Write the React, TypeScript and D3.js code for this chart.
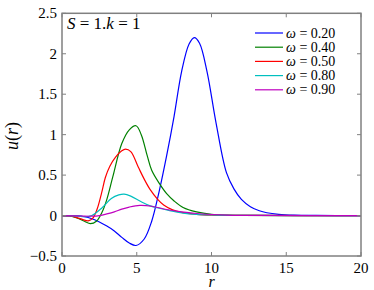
import React from 'react';
import * as d3 from 'd3';

const omegaLabels = ['0.20', '0.40', '0.50', '0.80', '0.90'];
const colors = ['#0000ff', '#008000', '#ff0000', '#00bfbf', '#bf00bf'];

const rBlue = [0, 1, 1.5, 2, 2.5, 3, 3.5, 4, 4.5, 4.95, 5.5, 6, 6.5, 7, 7.5, 8, 8.5, 8.85, 9.2, 9.7, 10.3, 11, 11.5, 12, 12.6, 13.2, 13.7, 14.5, 15.5, 17, 20];
const uBlue = [0, -0.005, -0.015, -0.04, -0.08, -0.13, -0.19, -0.27, -0.34, -0.37, -0.29, -0.07, 0.3, 0.74, 1.23, 1.78, 2.12, 2.2, 2.13, 1.78, 1.15, 0.53, 0.33, 0.2, 0.11, 0.06, 0.035, 0.015, 0.005, 0.001, 0];

const rGreen = [0, 0.5, 1, 1.5, 1.9, 2.3, 2.7, 3, 3.4, 4, 4.5, 4.95, 5.3, 5.7, 6, 6.5, 7, 7.5, 8.1, 9, 10, 11, 13, 20];
const uGreen = [0, -0.005, -0.03, -0.07, -0.1, -0.07, 0.05, 0.2, 0.48, 0.89, 1.06, 1.11, 1.0, 0.74, 0.56, 0.4, 0.27, 0.18, 0.1, 0.045, 0.015, 0.005, 0.001, 0];

const rRed = [0, 0.5, 1, 1.4, 1.75, 2.05, 2.35, 2.65, 2.9, 3.2, 3.57, 4, 4.25, 4.6, 5.1, 5.5, 5.9, 6.4, 6.8, 7.4, 8, 9, 10, 12, 20];
const uRed = [0, -0.005, -0.025, -0.05, -0.065, -0.035, 0.08, 0.28, 0.47, 0.61, 0.72, 0.8, 0.82, 0.79, 0.6, 0.45, 0.32, 0.2, 0.13, 0.07, 0.04, 0.015, 0.005, 0.001, 0];

const rCyan = [0, 1, 1.5, 2, 2.7, 3.3, 3.8, 4.15, 4.6, 5.3, 5.9, 6.5, 7.2, 8.1, 9, 10, 12, 20];
const uCyan = [0, -0.005, -0.015, 0.0, 0.1, 0.21, 0.255, 0.265, 0.24, 0.17, 0.12, 0.09, 0.06, 0.03, 0.015, 0.008, 0.002, 0];

const rMagenta = [0, 1, 1.5, 2, 2.5, 3, 3.5, 4, 4.5, 5.2, 6, 7, 8, 9, 10, 11, 12, 14, 20];
const uMagenta = [0, -0.003, -0.008, -0.008, 0.0, 0.02, 0.045, 0.08, 0.105, 0.125, 0.115, 0.075, 0.045, 0.025, 0.013, 0.006, 0.003, 0.001, 0];

const series = [
  { r: rBlue, u: uBlue },
  { r: rGreen, u: uGreen },
  { r: rRed, u: uRed },
  { r: rCyan, u: uCyan },
  { r: rMagenta, u: uMagenta },
];

const xTicks = [0, 5, 10, 15, 20];
const yTicks = [-0.5, 0, 0.5, 1, 1.5, 2, 2.5];

const width = 374;
const height = 290;
const margin = { top: 13.3, right: 13, bottom: 34, left: 62 };
const font = 'Liberation Serif, DejaVu Serif, Times New Roman, serif';
const axisColor = '#808080';

export default function App() {
  const x = d3.scaleLinear().domain([0, 20]).range([margin.left, width - margin.right]);
  const y = d3.scaleLinear().domain([-0.5, 2.5]).range([height - margin.bottom, margin.top]);

  const line = d3
    .line<[number, number]>()
    .x(d => x(d[0]))
    .y(d => y(d[1]))
    .curve(d3.curveCatmullRom.alpha(0.5));

  const x0 = x.range()[0];
  const x1 = x.range()[1];
  const y0 = y.range()[0];
  const y1 = y.range()[1];
  const tick = 4;

  return (
    <svg
      width={width}
      height={height}
      fontFamily={font}
      style={{ position: 'absolute', left: 0, top: 0, background: '#fff' }}
    >
      {/* curves */}
      <g fill="none" strokeWidth={1.2}>
        {series.map((s, i) => (
          <path
            key={i}
            d={line(s.r.map((r, j) => [r, s.u[j]] as [number, number])) || ''}
            stroke={colors[i]}
          />
        ))}
      </g>

      {/* box + ticks */}
      <g stroke={axisColor} strokeWidth={1.5} fill="none">
        <rect x={x0} y={y1} width={x1 - x0} height={y0 - y1} />
        {xTicks.map(t => (
          <g key={t}>
            <line x1={x(t)} x2={x(t)} y1={y0} y2={y0 - tick} strokeWidth={1} />
            <line x1={x(t)} x2={x(t)} y1={y1} y2={y1 + tick} strokeWidth={1} />
          </g>
        ))}
        {yTicks.map(t => (
          <g key={t}>
            <line x1={x0} x2={x0 + tick} y1={y(t)} y2={y(t)} strokeWidth={1} />
            <line x1={x1} x2={x1 - tick} y1={y(t)} y2={y(t)} strokeWidth={1} />
          </g>
        ))}
      </g>

      {/* tick labels */}
      <g fontSize={15} fill="#000">
        {xTicks.map(t => (
          <text key={t} x={x(t)} y={273} textAnchor="middle">
            {t}
          </text>
        ))}
        {yTicks.map(t => (
          <text key={t} x={57} y={y(t) + 5} textAnchor="end">
            {t < 0 ? '\u2212' + Math.abs(t) : t}
          </text>
        ))}
      </g>

      {/* axis labels */}
      <text x={x(10)} y={287} textAnchor="middle" fontSize={16} fontStyle="italic">
        r
      </text>
      <text transform={`translate(18,136) rotate(-90)`} textAnchor="middle" fontSize={18}>
        <tspan fontStyle="italic">u</tspan>(<tspan fontStyle="italic">r</tspan>)
      </text>

      {/* title */}
      <text x={67} y={28.5} fontSize={17}>
        <tspan fontStyle="italic">S</tspan> = 1.<tspan fontStyle="italic">k</tspan> = 1
      </text>

      {/* legend */}
      <g>
        {omegaLabels.map((lab, i) => {
          const cy = 33 + i * 14.2;
          return (
            <g key={lab}>
              <line x1={255} x2={283} y1={cy} y2={cy} stroke={colors[i]} strokeWidth={1.2} />
              <text x={286} y={cy + 4.5} fontSize={14}>
                <tspan fontStyle="italic">ω</tspan> = {lab}
              </text>
            </g>
          );
        })}
      </g>
    </svg>
  );
}
